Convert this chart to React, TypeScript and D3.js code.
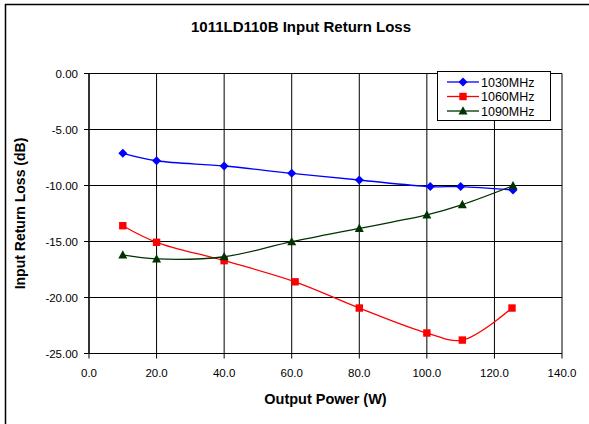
import React from "react";
import * as d3 from "d3";

const title = "1011LD110B Input Return Loss";
const xTitle = "Output Power (W)";
const yTitle = "Input Return Loss (dB)";

const xTicks = [0, 20, 40, 60, 80, 100, 120, 140];
const yTicks = [0, -5, -10, -15, -20, -25];

const power1030 = [10, 20, 40, 60, 80, 101, 110, 125.5];
const loss1030 = [-7.13, -7.79, -8.26, -8.91, -9.51, -10.1, -10.1, -10.4];

const power1060 = [10, 20, 40, 61, 80, 100, 110.5, 125.2];
const loss1060 = [-13.59, -15.07, -16.71, -18.6, -20.94, -23.17, -23.8, -20.94];

const power1090 = [10, 20, 40, 60, 80, 100, 110.5, 125.5];
const loss1090 = [-16.2, -16.56, -16.36, -15.02, -13.82, -12.63, -11.71, -10.02];

type Series = {
  name: string;
  xs: number[];
  ys: number[];
  color: string;
  marker: "diamond" | "square" | "triangle";
};

const series: Series[] = [
  {name: "1030MHz", xs: power1030, ys: loss1030, color: "#0000FF", marker: "diamond"},
  {name: "1060MHz", xs: power1060, ys: loss1060, color: "#FF0000", marker: "square"},
  {name: "1090MHz", xs: power1090, ys: loss1090, color: "#003300", marker: "triangle"},
];

const W = 589;
const H = 424;
const plot = {left: 89, right: 562, top: 73.5, bottom: 353.5};
const font = "'Liberation Sans', Arial, sans-serif";

const Marker = ({kind, x, y, color}: {kind: Series["marker"]; x: number; y: number; color: string}) => {
  if (kind === "diamond") {
    return <path d={`M${x},${y - 4.5}L${x + 4.5},${y}L${x},${y + 4.5}L${x - 4.5},${y}Z`} fill={color}/>;
  }
  if (kind === "square") {
    return <rect x={x - 3.7} y={y - 3.7} width={7.4} height={7.4} fill={color}/>;
  }
  return <path d={`M${x},${y - 4.8}L${x + 4.5},${y + 3.6}L${x - 4.5},${y + 3.6}Z`} fill={color}/>;
};

const App = () => {
  const x = d3.scaleLinear().domain([0, 140]).range([plot.left, plot.right]);
  const y = d3.scaleLinear().domain([-25, 0]).range([plot.bottom, plot.top]);
  const line = d3
    .line<[number, number]>()
    .x(d => x(d[0]))
    .y(d => y(d[1]))
    .curve(d3.curveCatmullRom.alpha(0.5));

  const legend = {x: 437, y: 71, w: 113, h: 49};

  return (
    <svg width={W} height={H} style={{position: "absolute", left: 0, top: 0, background: "#fff"}}
         fontFamily={font}>
      <rect x={5.5} y={4.5} width={620} height={440} fill="#fff" stroke="#000" strokeWidth={1.5}/>
      <text x={301} y={32} textAnchor="middle" fontSize={15} fontWeight="bold">{title}</text>

      {/* grid */}
      {yTicks.map(t => (
        <g key={"y" + t}>
          <line x1={plot.left - 5} x2={plot.right} y1={y(t)} y2={y(t)} stroke="#000" strokeWidth={1}/>
          <text x={78} y={y(t) + 4} textAnchor="end" fontSize={11.5}>{t.toFixed(2)}</text>
        </g>
      ))}
      {xTicks.map(t => (
        <g key={"x" + t}>
          <line x1={x(t)} x2={x(t)} y1={plot.top} y2={plot.bottom + 5} stroke="#000" strokeWidth={1}/>
          <text x={x(t)} y={377} textAnchor="middle" fontSize={11.5}>{t.toFixed(1)}</text>
        </g>
      ))}
      <line x1={plot.left} x2={plot.left} y1={plot.top} y2={plot.bottom} stroke="#000" strokeWidth={1.2}/>
      <line x1={plot.left} x2={plot.right} y1={plot.bottom} y2={plot.bottom} stroke="#000" strokeWidth={1.2}/>

      {/* series */}
      {series.map(s => {
        const pts = s.xs.map((v, i) => [v, s.ys[i]] as [number, number]);
        return (
          <g key={s.name}>
            <path d={line(pts) ?? ""} fill="none" stroke={s.color} strokeWidth={1.3}/>
            {pts.map((p, i) => (
              <Marker key={i} kind={s.marker} x={x(p[0])} y={y(p[1])} color={s.color}/>
            ))}
          </g>
        );
      })}

      {/* legend */}
      <rect x={legend.x + 0.5} y={legend.y + 0.5} width={legend.w} height={legend.h} fill="#fff" stroke="#000"/>
      {series.map((s, i) => {
        const ly = 82 + i * 14.5;
        return (
          <g key={"lg" + s.name}>
            <line x1={447} x2={479} y1={ly} y2={ly} stroke={s.color} strokeWidth={1.3}/>
            <Marker kind={s.marker} x={463} y={ly} color={s.color}/>
            <text x={481} y={ly + 4.5} fontSize={12.5}>{s.name}</text>
          </g>
        );
      })}

      <text x={(plot.left + plot.right) / 2} y={404} textAnchor="middle" fontSize={14.5} fontWeight="bold">{xTitle}</text>
      <text transform={`translate(25 ${(plot.top + plot.bottom) / 2}) rotate(-90)`} textAnchor="middle"
            fontSize={14} fontWeight="bold">{yTitle}</text>
    </svg>
  );
};

export default App;
